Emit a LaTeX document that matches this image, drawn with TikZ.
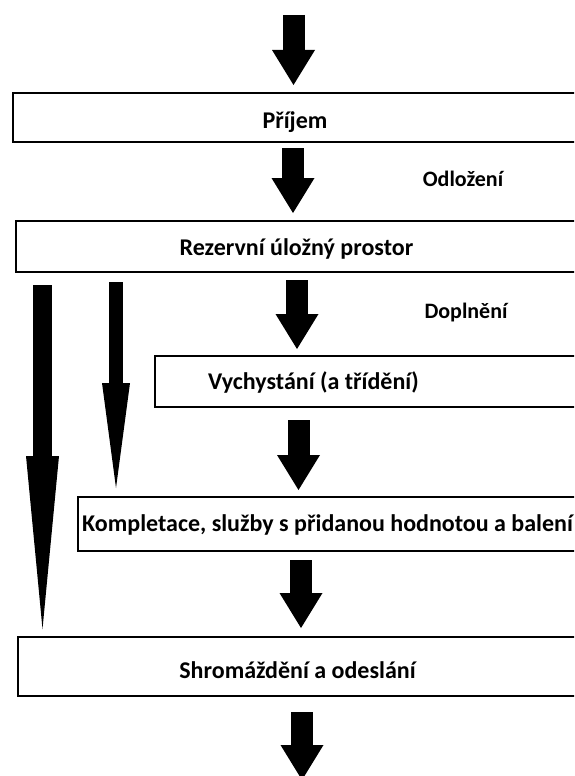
\documentclass[tikz,border=0pt]{standalone}
\usepackage{fontspec}
\setmainfont{Carlito}
\usetikzlibrary{arrows.meta}
\tikzset{
  box/.style={draw=black, line width=2pt, anchor=north west, inner sep=0pt,
    font=\fontsize{24}{28}\selectfont\bfseries, text depth=0pt},
  side/.style={font=\fontsize{22}{26}\selectfont\bfseries, anchor=base},
  flow/.style={line width=22pt, -{Triangle[length=35pt,width=43pt,line width=0pt 0 0]}},
  bypass/.style n args={3}{line width=#1, -{Triangle[length=#2,width=#3,line width=0pt 0 0]}},
}

\begin{document}
\begin{tikzpicture}[x=1pt,y=-1pt]
  \useasboundingbox (0,0) rectangle (574,776);
  \clip (0,0) rectangle (574,776);

  % process boxes, cut off at the right edge
  \node[box, minimum width=564pt, minimum height=49pt, text height=21pt] (prij) at (12,92) {Příjem};
  \node[box, minimum width=561pt, minimum height=51pt, text height=17pt] (rez) at (15,220) {Rezervní úložný prostor};
  \node[box, minimum height=51pt, text height=15pt, inner xsep=53pt, text width=316pt, align=flush left] (vych) at (154,355) {Vychystání (a třídění)};
  \node[box, minimum width=499pt, minimum height=54pt, text height=14pt] (komp) at (77,496) {Kompletace, služby s přidanou hodnotou a balení};
  \node[box, minimum width=559pt, minimum height=59pt, text height=23pt] (shrom) at (17,636) {Shromáždění a odeslání};

  \node[side] (odl) at (463,186) {Odložení};
  \node[side] (dopl) at (466,318) {Doplnění};

  \coordinate (in) at (293.5,15);
  \coordinate (out) at (302,780);
  \coordinate (a1) at (293,0);
  \coordinate (a2) at (297,0);
  \coordinate (a3) at (298.5,0);
  \coordinate (a4) at (301,0);
  \coordinate (l1) at (42.5,0);
  \coordinate (l2) at (116,0);

  % main flow
  \draw[flow, shorten >=7pt] (in) -- (prij.north -| in);
  \draw[flow, shorten <=5pt, shorten >=7pt] (prij.south -| a1) -- (rez.north -| a1);
  \draw[flow, shorten <=7pt, shorten >=6pt] (rez.south -| a2) -- (vych.north -| a2);
  \draw[flow, shorten <=12pt, shorten >=6pt] (vych.south -| a3) -- (komp.north -| a3);
  \draw[flow, shorten <=8pt, shorten >=8pt] (komp.south -| a4) -- (shrom.north -| a4);
  \draw[flow, shorten <=15pt] (shrom.south -| out) -- (out);

  % bypasses from the reserve storage
  \draw[bypass={19pt}{173pt}{33pt}, shorten <=12pt, shorten >=7pt] (rez.south -| l1) -- (shrom.north -| l1);
  \draw[bypass={14pt}{105pt}{28pt}, shorten <=9pt, shorten >=8pt] (rez.south -| l2) -- (komp.north -| l2);
\end{tikzpicture}
\end{document}
